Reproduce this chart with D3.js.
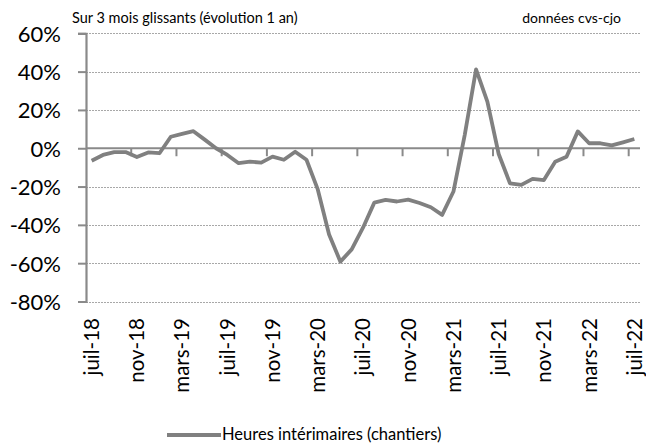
<!DOCTYPE html>
<html>
<head>
<meta charset="utf-8">
<script src="https://cdn.jsdelivr.net/npm/d3@7"></script>
<style>
  body { margin: 0; background: #fff; }
  text { font-family: Lato, "Open Sans", sans-serif; fill: #000; }
</style>
</head>
<body>
<div id="chart"></div>
<script>
// Chart Size Setup
var W = 646, H = 445;
var margin = { top: 33, right: 6, bottom: 144, left: 86 };

// Data
var months = ["juil-18","août-18","sept-18","oct-18","nov-18","déc-18",
  "janv-19","févr-19","mars-19","avr-19","mai-19","juin-19",
  "juil-19","août-19","sept-19","oct-19","nov-19","déc-19",
  "janv-20","févr-20","mars-20","avr-20","mai-20","juin-20",
  "juil-20","août-20","sept-20","oct-20","nov-20","déc-20",
  "janv-21","févr-21","mars-21","avr-21","mai-21","juin-21",
  "juil-21","août-21","sept-21","oct-21","nov-21","déc-21",
  "janv-22","févr-22","mars-22","avr-22","mai-22","juin-22","juil-22"];

var heures = [-6.5, -3.5, -2, -2, -4.6, -2.2, -2.6, 6, 7.5, 8.9, 4.5, 0,
  -3.5, -7.8, -7, -7.5, -4.4, -6, -1.8, -6, -21.5, -45, -59.2, -52.8,
  -41.5, -28.4, -27, -27.8, -26.8, -28.6, -30.8, -34.8, -22.6, 7, 41.2, 24.3,
  -3, -18.3, -19.1, -16, -16.6, -7, -4.4, 8.8, 2.6, 2.6, 1.5, 3.1, 4.8];

var yTicks = [-80, -60, -40, -20, 0, 20, 40, 60];
var seriesName = "Heures intérimaires (chantiers)";
var subtitle = "Sur 3 mois glissants (évolution 1 an)";
var note = "données cvs-cjo";

var svg = d3.select('#chart')
  .append('svg')
  .attr('width', W)
  .attr('height', H);

svg.append('rect').attr('width', W).attr('height', H).attr('fill', '#fff');

///////////////////////
// Scales
var x = d3.scaleBand()
  .domain(months)
  .range([margin.left, W - margin.right])
  .paddingInner(0).paddingOuter(0);

var y = d3.scaleLinear()
  .domain([-80, 60])
  .range([H - margin.bottom + 0.5, margin.top + 0.3]);

var axisColor = '#8a8a8a';

///////////////////////
// Gridlines
svg.append('g')
  .selectAll('line')
  .data(yTicks.filter(function(d) { return d != 0; }))
  .enter().append('line')
  .attr('x1', margin.left)
  .attr('x2', W - margin.right)
  .attr('y1', function(d) { return Math.round(y(d)) + 0.5; })
  .attr('y2', function(d) { return Math.round(y(d)) + 0.5; })
  .attr('stroke', '#a8a8a8')
  .attr('stroke-width', 1)
  .attr('stroke-dasharray', '2,1');

///////////////////////
// Y axis
var yAxis = d3.axisLeft(y)
  .tickValues(yTicks)
  .tickSize(8)
  .tickPadding(17)
  .tickFormat(function(d) { return d + '%'; });

var gy = svg.append('g')
  .attr('transform', 'translate(' + margin.left + ',0)')
  .call(yAxis);
gy.select('.domain').attr('stroke', axisColor).attr('stroke-width', 2.2);
gy.selectAll('.tick line').attr('stroke', axisColor).attr('stroke-width', 2);
gy.selectAll('.tick text')
  .style('font-size', '22px')
  .attr('dy', '0.36em');

///////////////////////
// X axis (crosses at 0)
var gx = svg.append('g');
gx.append('line')
  .attr('x1', margin.left)
  .attr('x2', W - margin.right)
  .attr('y1', y(0))
  .attr('y2', y(0))
  .attr('stroke', axisColor)
  .attr('stroke-width', 2.2);

var tickIdx = months.map(function(d, i) { return i; })
  .filter(function(i) { return i % 4 == 0 && i > 0; });

gx.selectAll('line.tick')
  .data(tickIdx)
  .enter().append('line')
  .attr('class', 'tick')
  .attr('x1', function(i) { return x(months[i]); })
  .attr('x2', function(i) { return x(months[i]); })
  .attr('y1', y(0))
  .attr('y2', y(0) + 8)
  .attr('stroke', axisColor)
  .attr('stroke-width', 2);

var labelMonths = months.filter(function(d, i) { return i % 4 == 0; });
svg.append('g')
  .selectAll('text')
  .data(labelMonths)
  .enter().append('text')
  .attr('transform', function(d) {
    return 'translate(' + (x(d) + x.bandwidth() / 2) + ',' + (H - margin.bottom + 17) + ') rotate(-90)';
  })
  .attr('text-anchor', 'end')
  .attr('dy', '0.36em')
  .style('font-size', '20.5px')
  .text(function(d) { return d; });

///////////////////////
// Line
var line = d3.line()
  .x(function(d, i) { return x(months[i]) + x.bandwidth() / 2; })
  .y(function(d) { return y(d); });

svg.append('path')
  .datum(heures)
  .attr('fill', 'none')
  .attr('stroke', '#808080')
  .attr('stroke-width', 3.8)
  .attr('stroke-linejoin', 'round')
  .attr('d', line);

///////////////////////
// Texts
svg.append('text')
  .attr('x', 72)
  .attr('y', 23)
  .style('font-size', '14.5px')
  .text(subtitle);

svg.append('text')
  .attr('x', 621)
  .attr('y', 23)
  .attr('text-anchor', 'end')
  .style('font-size', '14px')
  .text(note);

///////////////////////
// Legend
svg.append('line')
  .attr('x1', 167).attr('x2', 221)
  .attr('y1', 435).attr('y2', 435)
  .attr('stroke', '#808080')
  .attr('stroke-width', 3.8);

svg.append('text')
  .attr('x', 222)
  .attr('y', 440)
  .style('font-size', '16.5px')
  .text(seriesName);
</script>
</body>
</html>
